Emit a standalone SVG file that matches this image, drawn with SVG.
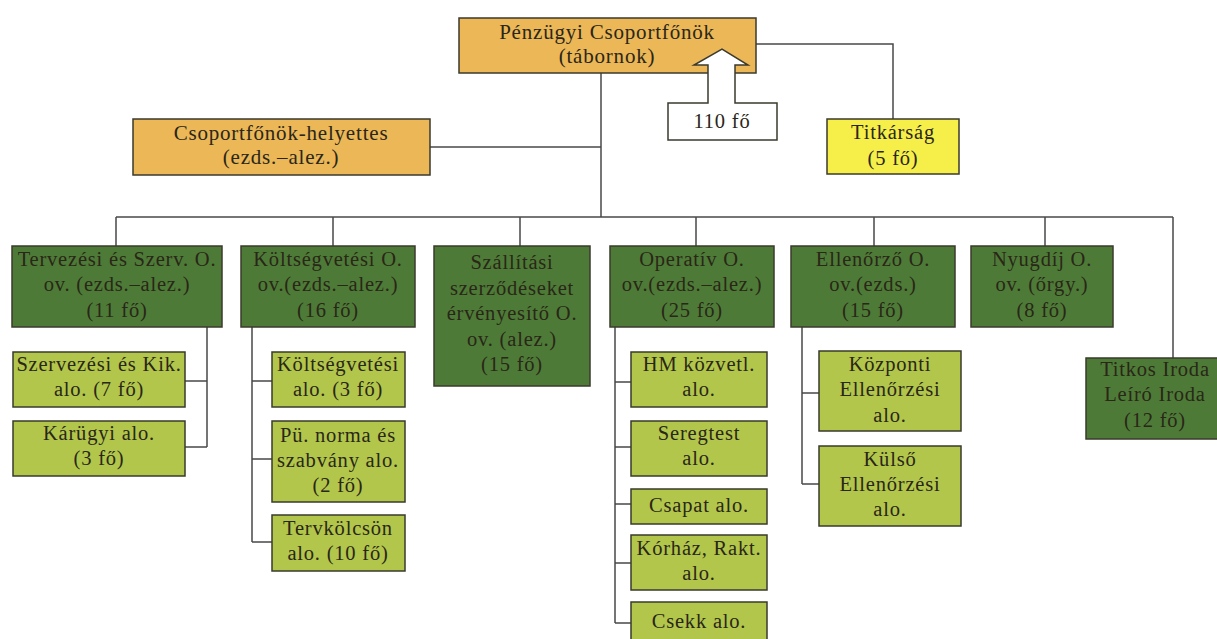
<svg xmlns="http://www.w3.org/2000/svg" width="1217" height="639" viewBox="0 0 1217 639">
<style>
  .bg { fill: #ffffff; }
  .box { stroke: #3b3a2c; stroke-width: 1.5; }
  .orange { fill: #ebb757; }
  .yellow { fill: #f6ef4a; }
  .dark { fill: #4d7b37; }
  .light { fill: #b2c64b; }
  .white { fill: #ffffff; }
  .conn { fill: none; stroke: #48484a; stroke-width: 1.5; }
  text { font-family: "Liberation Serif", "Times New Roman", serif; font-size: 20.5px; letter-spacing: 0.8px; fill: #2a2618; text-anchor: middle; }
  .big { font-size: 21px; }
</style>
<rect class="bg" x="0" y="0" width="1217" height="639"/>

<g id="connectors">
  <path class="conn" d="M601,73 V217"/>
  <path class="conn" d="M430,147 H601"/>
  <path class="conn" d="M756,44 H893 V119"/>
  <path class="conn" d="M116,217 H1173"/>
  <path class="conn" d="M116,217 V246 M333,217 V246 M520,217 V246 M696,217 V246 M874,217 V246 M1045,217 V246 M1173,217 V358"/>
  <path class="conn" d="M207,327 V447 M185,381 H207 M185,447 H207"/>
  <path class="conn" d="M252,327 V542 M252,381 H272 M252,459 H272 M252,542 H272"/>
  <path class="conn" d="M615,327 V623 M615,382 H631 M615,447 H631 M615,504 H631 M615,563 H631 M615,623 H631"/>
  <path class="conn" d="M802,327 V484 M802,393 H819 M802,484 H819"/>
</g>

<g id="penzugyi">
  <rect class="box orange" x="459" y="18" width="297" height="55"/>
  <text class="big" x="607" y="39">Pénzügyi Csoportfőnök</text>
  <text class="big" x="607" y="63">(tábornok)</text>
</g>

<g id="letszam">
  <path class="box white" d="M668,103 H708 V65 H694 L722,49 L748,65 H735 V103 H777 V140 H668 Z"/>
  <text x="722" y="128">110 fő</text>
</g>

<g id="helyettes">
  <rect class="box orange" x="133" y="119" width="297" height="56"/>
  <text class="big" x="281" y="140">Csoportfőnök-helyettes</text>
  <text class="big" x="281" y="164">(ezds.–alez.)</text>
</g>

<g id="titkarsag">
  <rect class="box yellow" x="827" y="119" width="132" height="55"/>
  <text x="893" y="139">Titkárság</text>
  <text x="893" y="165">(5 fő)</text>
</g>

<g id="tervezesi">
  <rect class="box dark" x="12" y="246" width="210" height="81"/>
  <text x="117" y="266">Tervezési és Szerv. O.</text>
  <text x="117" y="291">ov. (ezds.–alez.)</text>
  <text x="117" y="317">(11 fő)</text>
</g>

<g id="koltsegvetesi">
  <rect class="box dark" x="241" y="246" width="174" height="81"/>
  <text x="328" y="266">Költségvetési O.</text>
  <text x="328" y="291">ov.(ezds.–alez.)</text>
  <text x="328" y="317">(16 fő)</text>
</g>

<g id="szallitasi">
  <rect class="box dark" x="434" y="246" width="156" height="140"/>
  <text x="512" y="269">Szállítási</text>
  <text x="512" y="295">szerződéseket</text>
  <text x="512" y="320">érvényesítő O.</text>
  <text x="512" y="346">ov. (alez.)</text>
  <text x="512" y="371">(15 fő)</text>
</g>

<g id="operativ">
  <rect class="box dark" x="610" y="246" width="164" height="81"/>
  <text x="692" y="266">Operatív O.</text>
  <text x="692" y="291">ov.(ezds.–alez.)</text>
  <text x="692" y="317">(25 fő)</text>
</g>

<g id="ellenorzo">
  <rect class="box dark" x="791" y="246" width="164" height="81"/>
  <text x="873" y="266">Ellenőrző O.</text>
  <text x="873" y="291">ov.(ezds.)</text>
  <text x="873" y="317">(15 fő)</text>
</g>

<g id="nyugdij">
  <rect class="box dark" x="971" y="246" width="142" height="81"/>
  <text x="1042" y="266">Nyugdíj O.</text>
  <text x="1042" y="291">ov. (őrgy.)</text>
  <text x="1042" y="317">(8 fő)</text>
</g>

<g id="titkos">
  <rect class="box dark" x="1086" y="358" width="142" height="81"/>
  <text x="1155" y="376">Titkos Iroda</text>
  <text x="1155" y="401">Leíró Iroda</text>
  <text x="1155" y="427">(12 fő)</text>
</g>

<g id="szervezesi">
  <rect class="box light" x="13" y="352" width="172" height="55"/>
  <text x="99" y="371">Szervezési és Kik.</text>
  <text x="99" y="396">alo. (7 fő)</text>
</g>

<g id="karugyi">
  <rect class="box light" x="13" y="421" width="172" height="55"/>
  <text x="99" y="440">Kárügyi alo.</text>
  <text x="99" y="465">(3 fő)</text>
</g>

<g id="koltsegvetesi-alo">
  <rect class="box light" x="272" y="352" width="133" height="55"/>
  <text x="338" y="371">Költségvetési</text>
  <text x="338" y="396">alo. (3 fő)</text>
</g>

<g id="pu-norma">
  <rect class="box light" x="272" y="421" width="133" height="81"/>
  <text x="338" y="442">Pü. norma és</text>
  <text x="338" y="467">szabvány alo.</text>
  <text x="338" y="492">(2 fő)</text>
</g>

<g id="tervkolcson">
  <rect class="box light" x="272" y="515" width="133" height="56"/>
  <text x="338" y="535">Tervkölcsön</text>
  <text x="338" y="560">alo. (10 fő)</text>
</g>

<g id="hm">
  <rect class="box light" x="631" y="352" width="136" height="55"/>
  <text x="699" y="371">HM közvetl.</text>
  <text x="699" y="396">alo.</text>
</g>

<g id="seregtest">
  <rect class="box light" x="631" y="421" width="136" height="55"/>
  <text x="699" y="440">Seregtest</text>
  <text x="699" y="465">alo.</text>
</g>

<g id="csapat">
  <rect class="box light" x="631" y="489" width="136" height="35"/>
  <text x="699" y="512">Csapat alo.</text>
</g>

<g id="korhaz">
  <rect class="box light" x="631" y="535" width="136" height="55"/>
  <text x="699" y="555">Kórház, Rakt.</text>
  <text x="699" y="580">alo.</text>
</g>

<g id="csekk">
  <rect class="box light" x="631" y="602" width="136" height="40"/>
  <text x="699" y="628">Csekk alo.</text>
</g>

<g id="kozponti">
  <rect class="box light" x="819" y="351" width="142" height="80"/>
  <text x="890" y="371">Központi</text>
  <text x="890" y="396">Ellenőrzési</text>
  <text x="890" y="422">alo.</text>
</g>

<g id="kulso">
  <rect class="box light" x="819" y="446" width="142" height="80"/>
  <text x="890" y="466">Külső</text>
  <text x="890" y="491">Ellenőrzési</text>
  <text x="890" y="516">alo.</text>
</g>
</svg>
